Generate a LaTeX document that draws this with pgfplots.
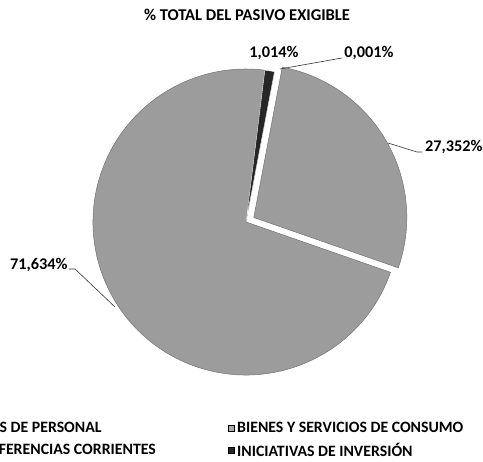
\documentclass[border=0pt]{standalone}
\usepackage{pgfplots}
\pgfplotsset{compat=1.18}
\usepackage{pgfplotstable}
\usepackage{fontspec}
\setmainfont{Carlito}
\definecolor{sliceGray}{RGB}{156,156,156}
\definecolor{sliceDark}{RGB}{38,38,38}
\definecolor{legGray}{RGB}{170,170,170}
\definecolor{transCol}{RGB}{120,120,120}

\pgfplotstableread{
name value
GASTOS 71.634
INICIATIVAS 1.014
TRANSFERENCIAS 0.001
BIENES 27.352
}\piedata

\begin{document}
\begin{tikzpicture}[x=1pt,y=1pt]
\pgfplotstablegetelem{0}{value}\of\piedata\let\vA\pgfplotsretval
\pgfplotstablegetelem{1}{value}\of\piedata\let\vB\pgfplotsretval
\pgfplotstablegetelem{2}{value}\of\piedata\let\vC\pgfplotsretval
\pgfplotstablegetelem{3}{value}\of\piedata\let\vD\pgfplotsretval
\pgfmathsetmacro\aO{90-109.2}
\pgfmathsetmacro\aA{\aO-3.6*\vA}
\pgfmathsetmacro\aB{\aA-3.6*\vB}
\pgfmathsetmacro\aC{\aB-3.6*\vC}
\pgfmathsetmacro\aD{\aC-3.6*\vD}
\pgfmathsetmacro\aMid{(\aC+\aD)/2}
\useasboundingbox (0,0) rectangle (483,462);
\clip (0,0) rectangle (483,462);
\begin{axis}[at={(0,0)},anchor=south west,
  width=483pt,height=462pt,scale only axis,
  xmin=0,xmax=483,ymin=0,ymax=462,y dir=reverse,
  hide axis, clip=false, enlargelimits=false,
  legend columns=2,
  legend image code/.code={\fill[#1] (0.5pt,-3pt) rectangle (6.5pt,3pt);},
  legend style={at={(axis cs:-55,420)},anchor=north west,draw=none,fill=none,
    font=\fontsize{15.8}{18}\selectfont\bfseries,
    inner sep=0pt,
    nodes={inner sep=2pt, inner xsep=3pt},
    row sep=5pt,
    /tikz/every even column/.append style={column sep=69pt}},
  legend cell align=left]
\addlegendimage{fill=sliceGray}
\addlegendentry{GASTOS DE PERSONAL}
\addlegendimage{fill=legGray}
\addlegendentry{BIENES Y SERVICIOS DE CONSUMO}
\addlegendimage{fill=transCol}
\addlegendentry{TRANSFERENCIAS CORRIENTES}
\addlegendimage{fill=sliceDark}
\addlegendentry{INICIATIVAS DE INVERSIÓN}
% slices
\filldraw[fill=sliceGray, draw=black!55, line width=0.5pt]
  (axis cs:246,222) -- ++(\aO:153pt) arc[start angle=\aO, end angle=\aA, radius=153pt] -- cycle;
\filldraw[fill=sliceDark, draw=white, line width=0.4pt]
  (axis cs:246,222) -- ++(\aA:153pt) arc[start angle=\aA, end angle=\aB, radius=153pt] -- cycle;
\fill[transCol]
  (axis cs:246,222) -- ++(\aB:153pt) arc[start angle=\aB, end angle=\aC, radius=153pt] -- cycle;
\filldraw[fill=sliceGray, draw=black!55, line width=0.5pt]
  ([shift={(\aMid:9pt)}]axis cs:246,222) -- ++(\aC:153pt) arc[start angle=\aC, end angle=\aD, radius=153pt] -- cycle;
% labels
\begin{scope}[font=\fontsize{16.3}{19}\selectfont\bfseries]
\node at (axis cs:274,53) {1,014\%};
\node at (axis cs:369,53) {0,001\%};
\node[anchor=west,inner sep=0pt] at (axis cs:425,147) {27,352\%};
\node[anchor=west,inner sep=0pt] at (axis cs:10,265) {71,634\%};
\end{scope}
\draw[black!80, line width=0.6pt] (axis cs:280,69) -- (axis cs:342,58);
\draw[black!80, line width=0.6pt] (axis cs:388,143) -- (axis cs:417,152) -- (axis cs:422,152);
\draw[black!80, line width=0.6pt] (axis cs:69,269) -- (axis cs:75,269) -- (axis cs:115,307);
\node[font=\fontsize{16.5}{19}\selectfont\bfseries] at (axis cs:247,15) {\% TOTAL DEL PASIVO EXIGIBLE};
\end{axis}
\end{tikzpicture}
\end{document}
